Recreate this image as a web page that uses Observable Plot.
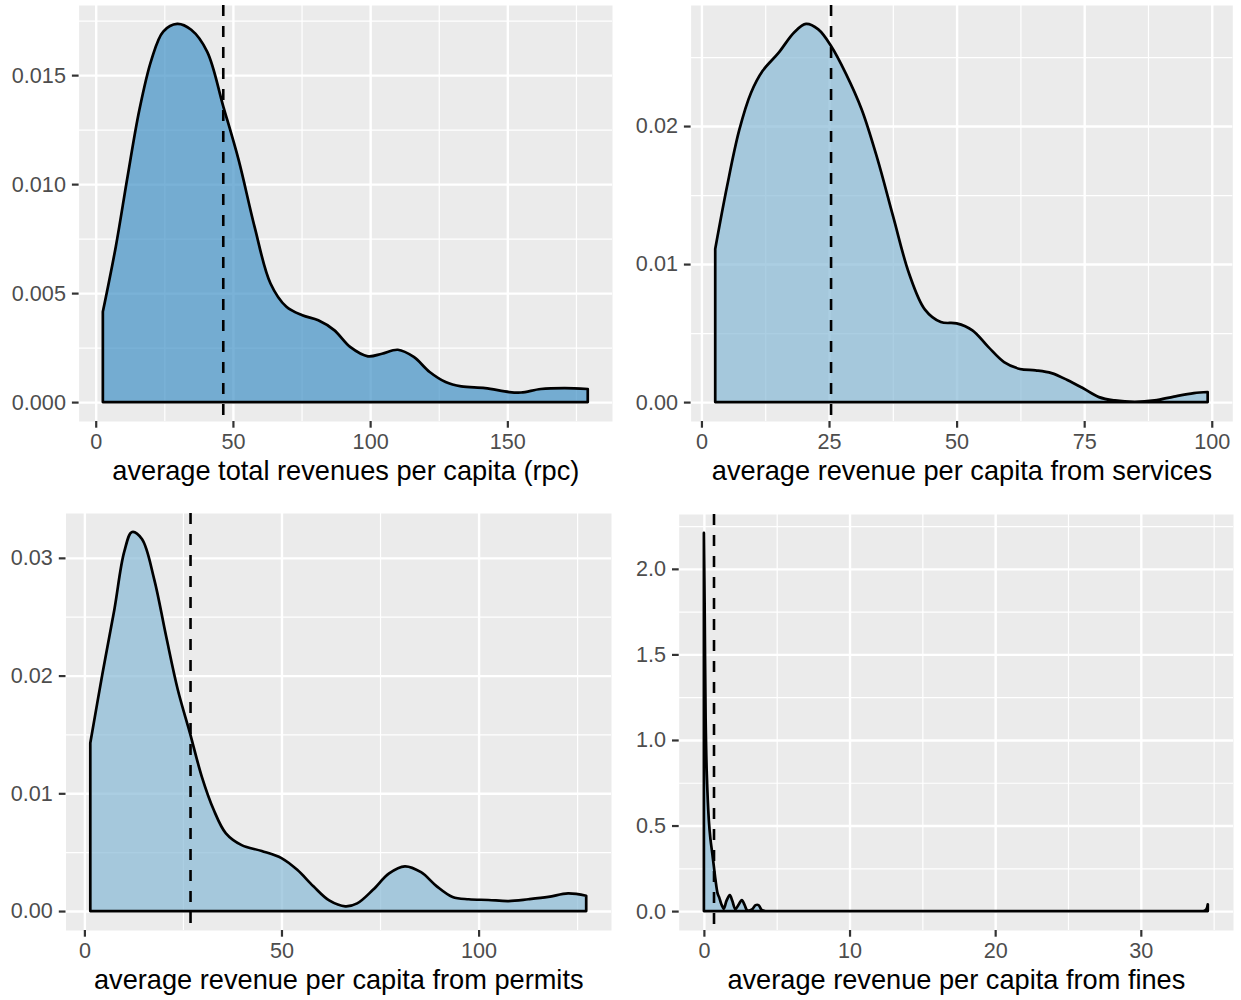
<!DOCTYPE html>
<html>
<head>
<meta charset="utf-8">
<script src="https://cdn.jsdelivr.net/npm/d3@7"></script>
<script src="https://cdn.jsdelivr.net/npm/@observablehq/plot@0.6"></script>
<style>
  html, body { margin: 0; padding: 0; background: #ffffff; }
  #wrap { position: relative; width: 1241px; height: 1000px; background: #ffffff; }
  .cell { position: absolute; }
</style>
</head>
<body>
<div id="wrap"></div>
<script>
// ---------- Data ----------
// Panel 1: average total revenues per capita (rpc)
const totalX = [2.6, 7.3, 11.6, 15.9, 20.3, 24.6, 29.7, 34.8, 40.6, 46.5, 52.1, 57.9, 63.7, 69.5, 75.3, 81.1, 86.9, 92.7, 99.2, 104.3, 110.1, 115.9, 121.7, 127.5, 133.2, 141.9, 150.7, 155, 162.2, 170.9, 179.3];
const totalDensity = [0.00414, 0.00712, 0.01034, 0.0134, 0.0157, 0.0170, 0.01735, 0.01708, 0.01608, 0.01356, 0.0111, 0.00804, 0.00544, 0.00437, 0.00398, 0.00375, 0.0033, 0.00253, 0.0021, 0.00222, 0.0024, 0.00207, 0.00138, 0.00092, 0.00072, 0.00064, 0.00046, 0.00044, 0.0006, 0.00064, 0.0006];
const totalMean = 46.3;
const totalXTicks = [0, 50, 100, 150];
const totalXLabels = ["0", "50", "100", "150"];
const totalYTicks = [0, 0.005, 0.010, 0.015];
const totalYLabels = ["0.000", "0.005", "0.010", "0.015"];

// Panel 2: services
const servicesX = [2.7, 5.0, 7.4, 9.7, 12.0, 15.1, 18.2, 20.5, 22.9, 25.4, 28.3, 31.4, 34.5, 37.6, 40.7, 43.8, 46.9, 50.0, 53.1, 56.2, 59.3, 62.4, 65.5, 68.6, 71.7, 74.8, 77.9, 81.0, 84.9, 88.8, 92.6, 96.5, 99.2];
const servicesDensity = [0.0111, 0.0156, 0.0197, 0.0224, 0.0240, 0.0253, 0.0268, 0.0274, 0.0270, 0.0258, 0.0238, 0.0212, 0.0176, 0.0134, 0.0093, 0.0067, 0.0058, 0.0057, 0.0052, 0.0040, 0.0029, 0.0024, 0.0023, 0.0021, 0.0016, 0.0010, 0.00036, 0.00012, 0.00002, 0.00012, 0.0004, 0.00065, 0.00073];
const servicesMean = 25.3;
const servicesXTicks = [0, 25, 50, 75, 100];
const servicesXLabels = ["0", "25", "50", "75", "100"];
const servicesYTicks = [0, 0.01, 0.02];
const servicesYLabels = ["0.00", "0.01", "0.02"];

// Panel 3: permits
const permitsX = [1.5, 4.5, 7.6, 10.1, 12.1, 14.6, 17.7, 20.7, 23.7, 26.8, 29.8, 32.8, 35.9, 39.9, 45.0, 50.0, 54.0, 58.1, 62.1, 66.2, 69.2, 73.2, 77.3, 81.3, 85.4, 89.4, 93.4, 97.5, 102.5, 107.6, 112.6, 117.7, 122.7, 127.3];
const permitsDensity = [0.01428, 0.0200, 0.0256, 0.0305, 0.0322, 0.0316, 0.0282, 0.0234, 0.0188, 0.0151, 0.0114, 0.0086, 0.0066, 0.0056, 0.0051, 0.0045, 0.0035, 0.0021, 0.0009, 0.0004, 0.00065, 0.0018, 0.0032, 0.0038, 0.0033, 0.0021, 0.0012, 0.0010, 0.00094, 0.00085, 0.0010, 0.0012, 0.0015, 0.0013];
const permitsMean = 26.8;
const permitsXTicks = [0, 50, 100];
const permitsXLabels = ["0", "50", "100"];
const permitsYTicks = [0, 0.01, 0.02, 0.03];
const permitsYLabels = ["0.00", "0.01", "0.02", "0.03"];

// Panel 4: fines
const finesX = [0, 0.05, 0.12, 0.2, 0.34, 0.45, 0.57, 0.7, 0.8, 0.95, 1.05, 1.2, 1.37, 1.55, 1.78, 1.95, 2.16, 2.4, 2.6, 2.8, 2.97, 3.3, 3.55, 3.75, 3.99, 4.3, 4.6, 34.0, 34.3, 34.5, 34.6];
const finesDensity = [2.21, 1.8, 1.12, 0.8, 0.53, 0.42, 0.34, 0.25, 0.18, 0.1, 0.08, 0.04, 0.015, 0.06, 0.094, 0.06, 0.012, 0.04, 0.064, 0.035, 0.005, 0.01, 0.035, 0.035, 0.005, 0, 0, 0, 0, 0.01, 0.04];
const finesMean = 0.66;
const finesXTicks = [0, 10, 20, 30];
const finesXLabels = ["0", "10", "20", "30"];
const finesYTicks = [0, 0.5, 1.0, 1.5, 2.0];
const finesYLabels = ["0.0", "0.5", "1.0", "1.5", "2.0"];

// minor grid positions (ggplot minor breaks)
const totalXMinor = [25, 75, 125, 175];
const totalYMinor = [0.0025, 0.0075, 0.0125, 0.0175];
const servicesXMinor = [12.5, 37.5, 62.5, 87.5];
const servicesYMinor = [0.005, 0.015, 0.025];
const permitsXMinor = [25, 75, 125];
const permitsYMinor = [0.005, 0.015, 0.025];
const finesXMinor = [5, 15, 25, 35];
const finesYMinor = [0.25, 0.75, 1.25, 1.75, 2.25];

const titles = [
  "average total revenues per capita (rpc)",
  "average revenue per capita from services",
  "average revenue per capita from permits",
  "average revenue per capita from fines"
];

// ---------- Drawing ----------
function panel(o) {
  const data = o.xs.map((x, i) => ({x, d: o.ds[i]}));
  const [x0, x1] = d3.extent(o.xs);
  const wx = x1 - x0;
  const ymax = d3.max(o.ds);
  return Plot.plot({
    width: o.width,
    height: 500,
    marginLeft: o.m[0],
    marginRight: o.m[1],
    marginTop: o.m[2],
    marginBottom: o.m[3],
    style: {
      fontFamily: "'Liberation Sans', Arial, Helvetica, sans-serif",
      fontSize: "21.6px",
      background: "transparent",
      color: "#4D4D4D",
      overflow: "visible"
    },
    x: {domain: [x0 - 0.05 * wx, x1 + 0.05 * wx]},
    y: {domain: [-0.05 * ymax, 1.05 * ymax]},
    marks: [
      Plot.frame({fill: "#EBEBEB", stroke: "none"}),
      Plot.gridX(o.xMinor, {stroke: "#FFFFFF", strokeOpacity: 1, strokeWidth: 1.2}),
      Plot.gridY(o.yMinor, {stroke: "#FFFFFF", strokeOpacity: 1, strokeWidth: 1.2}),
      Plot.gridX(o.xTicks, {stroke: "#FFFFFF", strokeOpacity: 1, strokeWidth: 2.4}),
      Plot.gridY(o.yTicks, {stroke: "#FFFFFF", strokeOpacity: 1, strokeWidth: 2.4}),
      Plot.areaY(data, {
        x: "x", y: "d",
        fill: o.fill, fillOpacity: 0.7,
        stroke: "#000000", strokeWidth: 2.7, strokeLinejoin: "round",
        curve: "catmull-rom"
      }),
      Plot.ruleX([o.mean], {stroke: "#000000", strokeWidth: 2.6, strokeDasharray: "11,10"}),
      Plot.axisX(o.xTicks, {
        tickFormat: d => o.xLabels[o.xTicks.indexOf(d)],
        tickSize: 6.7, tickPadding: 5.6, stroke: "#333333", fill: "#4D4D4D",
        strokeWidth: 2.2, label: null
      }),
      Plot.axisY(o.yTicks, {
        tickFormat: d => o.yLabels[o.yTicks.indexOf(d)],
        tickSize: 6.7, tickPadding: 6.5, stroke: "#333333", fill: "#4D4D4D",
        strokeWidth: 2.2, label: null
      }),
      Plot.text([o.title], {
        frameAnchor: "bottom", dy: 58.5, lineAnchor: "bottom",
        fontSize: 27.2, fill: "#000000"
      })
    ]
  });
}

const specs = [
  {left: 0, top: 0, width: 620, m: [78.6, 8, 5, 79],
   xs: totalX, ds: totalDensity, mean: totalMean, xTicks: totalXTicks, xLabels: totalXLabels,
   yTicks: totalYTicks, yLabels: totalYLabels, xMinor: totalXMinor, yMinor: totalYMinor,
   title: titles[0], fill: "#4292C6"},
  {left: 620, top: 0, width: 621, m: [70.6, 8.7, 5, 79],
   xs: servicesX, ds: servicesDensity, mean: servicesMean, xTicks: servicesXTicks, xLabels: servicesXLabels,
   yTicks: servicesYTicks, yLabels: servicesYLabels, xMinor: servicesXMinor, yMinor: servicesYMinor,
   title: titles[1], fill: "#87B9D6"},
  {left: 0, top: 500, width: 620, m: [65.5, 9, 13, 70],
   xs: permitsX, ds: permitsDensity, mean: permitsMean, xTicks: permitsXTicks, xLabels: permitsXLabels,
   yTicks: permitsYTicks, yLabels: permitsYLabels, xMinor: permitsXMinor, yMinor: permitsYMinor,
   title: titles[2], fill: "#87B9D6"},
  {left: 620, top: 500, width: 621, m: [58.7, 8, 14, 70],
   xs: finesX, ds: finesDensity, mean: finesMean, xTicks: finesXTicks, xLabels: finesXLabels,
   yTicks: finesYTicks, yLabels: finesYLabels, xMinor: finesXMinor, yMinor: finesYMinor,
   title: titles[3], fill: "#87B9D6"}
];

const wrap = document.getElementById("wrap");
for (const s of specs) {
  const cell = document.createElement("div");
  cell.className = "cell";
  cell.style.left = s.left + "px";
  cell.style.top = s.top + "px";
  cell.appendChild(panel(s));
  wrap.appendChild(cell);
}
</script>
</body>
</html>
